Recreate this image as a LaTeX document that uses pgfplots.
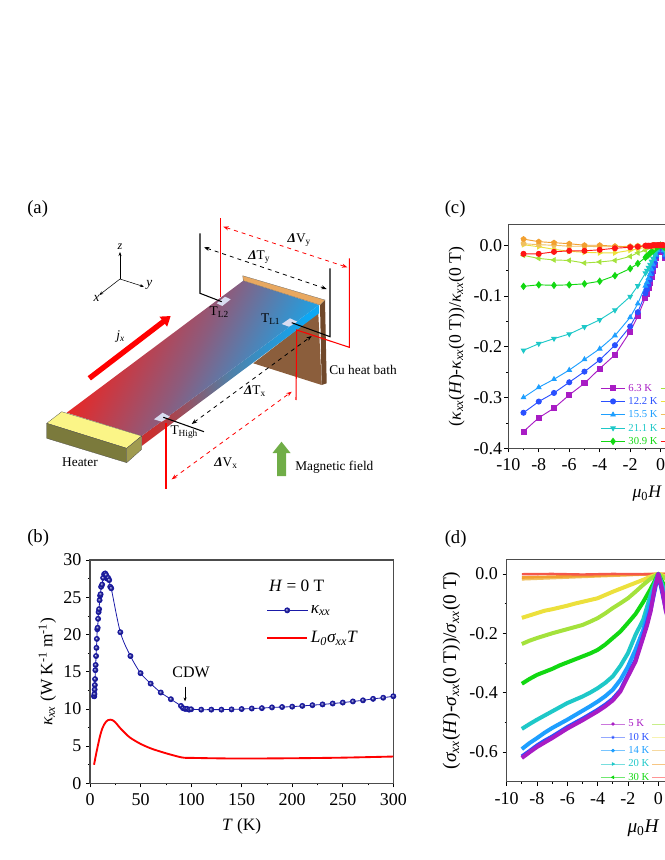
\documentclass[border=0pt]{standalone}
\usepackage{fontspec}
\setmainfont{Liberation Serif}
\usepackage{pgfplots}
\pgfplotsset{compat=1.18}
\usetikzlibrary{arrows.meta}

% series colours, low T to high T
\definecolor{cA}{HTML}{A81CC4}
\definecolor{cB}{HTML}{2A50FF}
\definecolor{cC}{HTML}{1E9FFF}
\definecolor{cD}{HTML}{1EC8C8}
\definecolor{cE}{HTML}{12D812}
\definecolor{cF}{HTML}{A4E23C}
\definecolor{cG}{HTML}{ECE03C}
\definecolor{cH}{HTML}{F0C060}
\definecolor{cI}{HTML}{F2A030}
\definecolor{cJ}{HTML}{FF1414}
\definecolor{cK}{HTML}{F5584B}
\definecolor{navyk}{HTML}{1A1AA8}
% schematic
\definecolor{hot}{HTML}{FF1A10}
\definecolor{mid}{HTML}{8C5C7D}
\definecolor{cold}{HTML}{00B4FF}
\definecolor{sidehot}{HTML}{C83030}
\definecolor{sidemid}{HTML}{5080A8}
\definecolor{sidecold}{HTML}{0CA8F5}
\definecolor{tan}{HTML}{E8A860}
\definecolor{cu}{HTML}{8B5E3C}
\definecolor{cudark}{HTML}{70482A}
\definecolor{heattop}{HTML}{FBF587}
\definecolor{heatfront}{HTML}{7B7A3C}
\definecolor{heatside}{HTML}{A09B50}
\definecolor{pad}{HTML}{D8DCF0}
\definecolor{fieldgreen}{HTML}{70AD47}

\pgfplotsset{
  panel/.style={
    scale only axis,
    tick align=outside,
    axis line style={black!70, line width=0.8pt},
    tick style={black, line width=0.5pt},
    major tick length=3pt,
    minor tick length=1.6pt,
    xtick pos=bottom, ytick pos=left,
    tick label style={font=\fontsize{13.5}{14}\selectfont},
    /pgf/number format/assume math mode=true,
  },
  fieldaxis/.style={
    xmin=-10, xmax=10,
    xtick={-10,-8,...,0},
    minor x tick num=1,
    minor y tick num=1,
    xticklabel style={yshift=-1.5pt},
    yticklabel style={/pgf/number format/fixed, /pgf/number format/precision=1, /pgf/number format/fixed zerofill},
    legend image code/.code={\draw[mark repeat=2,mark phase=2,##1] plot coordinates {(0pt,0pt)(9.2pt,0pt)(18.4pt,0pt)};},
    legend columns=5, transpose legend,
    legend cell align=left,
    legend style={draw=none, fill=none, font=\fontsize{8}{8}\selectfont, anchor=north west,
      nodes={inner sep=0pt, text height=6pt, text depth=1.5pt},
      row sep=2.5pt, column sep=2pt},
  },
}

\begin{document}
\begin{tikzpicture}
\path[use as bounding box] (0,0) rectangle (498pt,645pt);

% panel a, drawn in image pixels
\begin{axis}[at={(0pt,0pt)}, anchor=south west, scale only axis, width=498pt, height=645pt,
  xmin=0, xmax=664, ymin=0, ymax=860, y dir=reverse, hide axis, clip=false,
  every axis plot/.append style={forget plot}]
  \addplot[fill=cu, draw=none] coordinates {(253.3,363.3) (318.3,313) (321.7,385)} --cycle;
  \addplot[fill=cudark, draw=none] coordinates {(320,305) (325,300) (326.7,383.3) (321.7,385)} --cycle;
  \shade[bottom color=sidehot, top color=sidecold, middle color=sidemid, shading angle=-80]
    (141.7,436) -- (319,305) -- (319,313.3) -- (141.7,446) -- cycle;
  \shade[bottom color=hot, top color=cold, middle color=mid, shading angle=-118]
    (66.7,412.7) -- (243.3,280.7) -- (319,305) -- (141.7,436) -- cycle;
  \addplot[fill=tan, draw=black!60, line width=0.2pt]
    coordinates {(242.7,275.7) (243.3,280.7) (320,305) (325,300)} --cycle;
  % heater
  \addplot[fill=heattop, draw=black!70, line width=0.2pt]
    coordinates {(46.7,423.3) (61.7,411.7) (141.7,436) (126.7,448.3)} --cycle;
  \addplot[fill=heatfront, draw=black!70, line width=0.2pt]
    coordinates {(46.7,423.3) (126.7,448.3) (126.7,462.7) (46.7,438.3)} --cycle;
  \addplot[fill=heatside, draw=black!70, line width=0.2pt]
    coordinates {(126.7,448.3) (141.7,436) (141.7,449.3) (126.7,462.7)} --cycle;
  % contacts
  \addplot[fill=pad, draw=none] coordinates {(216.7,303.3) (225,296.7) (230.7,299.3) (222.3,306)} --cycle;
  \addplot[fill=pad, draw=none] coordinates {(281.7,324) (290,318.3) (297.3,321.7) (289,326.7)} --cycle;
  \addplot[fill=pad, draw=none] coordinates {(154,419.3) (162.7,412.7) (170,416.7) (161.7,421.7)} --cycle;
  % wires
  \addplot[black, line width=0.8pt] coordinates {(200,233.3) (200,293.3) (221.7,301.7)};
  \addplot[black, line width=0.8pt] coordinates {(330,268.3) (330,336.7) (291.7,322.7)};
  \addplot[black, line width=0.8pt] coordinates {(163.3,417.3) (204,431.7)};
  \addplot[red, line width=0.8pt] coordinates {(220.7,218.3) (220.7,296.7)};
  \addplot[red, line width=0.8pt] coordinates {(349.3,258.3) (349.3,347.3) (296.7,330) (296,400)};
  \addplot[red, line width=0.8pt] coordinates {(166,423.3) (166,489.3)};
  % dashed spans
  \addplot[red, line width=0.6pt, dashed, {Stealth[length=4pt]}-{Stealth[length=4pt]}] coordinates {(223.3,226.7) (347.3,267.3)};
  \addplot[black, line width=0.6pt, dashed, {Stealth[length=4pt]}-{Stealth[length=4pt]}] coordinates {(204,247.3) (326.7,289)};
  \addplot[black, line width=0.6pt, dashed, {Stealth[length=4pt]}-{Stealth[length=4pt]}] coordinates {(191.7,424) (311.7,336)};
  \addplot[red, line width=0.6pt, dashed, {Stealth[length=4pt]}-{Stealth[length=4pt]}] coordinates {(171.7,479.3) (291.7,391.7)};
  % current and field arrows
  \addplot[red, line width=4pt, -{Triangle[length=7pt,width=9pt]}] coordinates {(89.3,378.3) (170.7,316)};
  \addplot[fill=fieldgreen, draw=none]
    coordinates {(277,476) (286,476) (286,453) (290.5,453) (281.5,441.7) (272.5,453) (277,453)} --cycle;
  % xyz triad
  \addplot[black, line width=0.4pt, -{Stealth[length=3pt]}] coordinates {(120,279) (120,252)};
  \addplot[black, line width=0.4pt, -{Stealth[length=3pt]}] coordinates {(120,279) (144,286.7)};
  \addplot[black, line width=0.4pt, -{Stealth[length=3pt]}] coordinates {(120,279) (99.3,295)};
  \node[font=\fontsize{9}{9}\selectfont\itshape] at (120,247) {z};
  \node[font=\fontsize{10}{10}\selectfont\itshape] at (149.3,285) {y};
  \node[font=\fontsize{10}{10}\selectfont\itshape] at (96.7,298.5) {x};
  % labels
  \begin{scope}[every node/.style={font=\fontsize{10}{11}\selectfont, inner sep=0pt}]
    \node at (299.3,240) {\textbf{\textit{Δ}}V\textsubscript{y}};
    \node at (259.3,256.7) {\textbf{\textit{Δ}}T\textsubscript{y}};
    \node at (255,390.7) {\textbf{\textit{Δ}}T\textsubscript{x}};
    \node at (226,462.7) {\textbf{\textit{Δ}}V\textsubscript{x}};
    \node at (219.3,311.7) {T\textsubscript{L2}};
    \node at (270.7,319.3) {T\textsubscript{L1}};
    \node at (184.3,431.7) {T\textsubscript{High}};
    \node[anchor=west] at (329,370) {Cu heat bath};
    \node at (80,461.7) {Heater};
    \node[anchor=west] at (295,467.3) {Magnetic field};
    \node at (120.7,336.7) {\textit{j\textsubscript{x}}};
  \end{scope}
  \begin{scope}[every node/.style={font=\fontsize{14}{15}\selectfont, inner sep=0pt, anchor=west}]
    \node at (27,209) {(a)};
    \node at (27,538) {(b)};
    \node at (444.5,209) {(c)};
    \node at (444.5,539) {(d)};
  \end{scope}
\end{axis}

% panel b
\begin{axis}[panel, at={(67.5pt,57.5pt)}, anchor=south west, width=227.5pt, height=167.5pt,
  xmin=0, xmax=300, ymin=0, ymax=30,
  xtick={0,50,...,300}, ytick={0,5,...,30},
  minor x tick num=1, minor y tick num=1,
  xticklabel style={yshift=-1pt},
  xlabel={\textit{T} (K)},
  ylabel={\textit{κ\textsubscript{xx}} (W K\textsuperscript{-1} m\textsuperscript{-1})},
  label style={font=\fontsize{13}{15}\selectfont},
  xlabel style={yshift=-3pt}, ylabel style={yshift=-1.5pt},
  legend cell align=left,
  legend image code/.code={\draw[mark repeat=2,mark phase=2,#1] plot coordinates {(0pt,0pt)(15pt,0pt)(30pt,0pt)};},
  legend style={draw=none, fill=none, at={(0.567,0.822)}, anchor=north west,
    font=\fontsize{13}{14}\selectfont, row sep=8pt},
]
  \addplot[navyk, line width=0.6pt, smooth, mark=ball, mark size=1.9pt, mark options={ball color=navyk}]
  coordinates {(4,11.7) (4.2,11.7) (4.4,12) (4.6,12.6) (4.8,13.2) (5,14) (5.3,15.2) (5.6,15.9) (6,17.1) (6.4,18.2) (6.8,19.4) (7.2,20.7) (7.6,20.9) (8,22.1) (8.5,23) (9,23.4) (9.5,24.6) (10,25.2) (10.5,25.4) (11,26.4) (12,26.7) (13,27.6) (14,28.1) (15,28.2) (16,28) (17,27.5) (18,27.6) (19,27.3) (20,26.4) (21,26.2) (30,20.3) (40,17.1) (50,14.8) (60,13.4) (70,12.2) (80,11.3) (90,10.4) (92,10.1) (94,10) (96,10) (98,9.9) (100,9.95) (110,9.9) (120,9.9) (130,9.9) (140,9.93) (150,9.98) (160,10.05) (170,10.1) (180,10.2) (190,10.25) (200,10.3) (210,10.4) (220,10.5) (230,10.6) (240,10.72) (250,10.85) (260,11) (270,11.15) (280,11.35) (290,11.5) (300,11.7)};
  \addlegendentry{\textit{κ\textsubscript{xx}}}
  \addplot[red, line width=1.4pt, smooth, forget plot]
  coordinates {(4,2.5) (6,3.9) (8,5.2) (10,6.4) (12,7.3) (14,7.9) (16,8.3) (18,8.5) (20,8.55) (22,8.5) (25,8.2) (30,7.4) (35,6.7) (40,6.1) (50,5.3) (60,4.7) (70,4.25) (80,3.85) (90,3.5) (95,3.42) (100,3.42) (120,3.37) (150,3.33) (200,3.37) (250,3.45) (300,3.6)};
  \addlegendimage{red, line width=1.4pt}
  \addlegendentry{\textit{L\textsubscript{0}σ\textsubscript{xx}T}}
  \node[font=\fontsize{13}{14}\selectfont] at (204.4,26.5) {\textit{H} = 0 T};
  \node[font=\fontsize{12}{13}\selectfont] at (100,14.9) {CDW};
  \draw[black, line width=0.4pt, -{Stealth[length=3pt]}] (94,13) -- (94,11);
\end{axis}

% panel c
\begin{axis}[panel, fieldaxis, at={(381.2pt,308.8pt)}, anchor=south west, width=228.6pt, height=167.5pt,
  ymin=-0.4, ymax=0.04, ytick={-0.4,-0.3,...,0},
  xlabel={\textit{μ}\textsubscript{0}\textit{H} (T)},
  ylabel={(\textit{κ\textsubscript{xx}}(\textit{H})-\textit{κ\textsubscript{xx}}(0 T))/\textit{κ\textsubscript{xx}}(0 T)},
  label style={font=\fontsize{13.2}{15}\selectfont},
  xlabel style={yshift=-4pt},
  yticklabel style={xshift=2pt},
  every axis plot/.append style={line width=0.7pt, mark size=1.9pt, mark options={solid}},
  legend style={at={(0.288,0.305)}},
]
  \addplot[cA, mark=square*] coordinates {(-9,-.367) (-8,-.340) (-7,-.321) (-6,-.295) (-5,-.272) (-4,-.243) (-3,-.216) (-2,-.170) (-1.5,-.140) (-1,-.103) (-.9,-.095) (-.8,-.085) (-.7,-.075) (-.6,-.062) (-.5,-.05) (-.4,-.038) (-.3,-.025) (-.2,-.014) (-.1,-.005) (0,0) (.1,-.005) (.2,-.014) (.3,-.025) (.5,-.05) (1,-.103)};
  \addlegendentry{\textcolor{cA}{6.3 K}}
  \addplot[cB, mark=*] coordinates {(-9,-.330) (-8,-.308) (-7,-.291) (-6,-.270) (-5,-.249) (-4,-.226) (-3,-.197) (-2,-.160) (-1.5,-.132) (-1,-.095) (-.9,-.087) (-.8,-.078) (-.7,-.068) (-.6,-.056) (-.5,-.045) (-.4,-.034) (-.3,-.022) (-.2,-.012) (-.1,-.004) (0,0) (.1,-.004) (.2,-.012) (.3,-.022) (.5,-.045) (1,-.095)};
  \addlegendentry{\textcolor{cB}{12.2 K}}
  \addplot[cC, mark=triangle*] coordinates {(-9,-.300) (-8,-.280) (-7,-.264) (-6,-.246) (-5,-.225) (-4,-.204) (-3,-.178) (-2,-.142) (-1.5,-.115) (-1,-.080) (-.9,-.073) (-.8,-.065) (-.7,-.057) (-.6,-.048) (-.5,-.038) (-.4,-.028) (-.3,-.019) (-.2,-.010) (-.1,-.003) (0,0) (.1,-.003) (.2,-.010) (.3,-.019) (.5,-.038) (1,-.080)};
  \addlegendentry{\textcolor{cC}{15.5 K}}
  \addplot[cD, mark=triangle*, mark options={solid, rotate=180}] coordinates {(-9,-.207) (-8,-.194) (-7,-.184) (-6,-.175) (-5,-.161) (-4,-.147) (-3,-.128) (-2,-.101) (-1.5,-.080) (-1,-.055) (-.9,-.050) (-.8,-.044) (-.7,-.038) (-.6,-.032) (-.5,-.026) (-.4,-.019) (-.3,-.013) (-.2,-.007) (-.1,-.002) (0,0) (.1,-.002) (.2,-.007) (.3,-.013) (.5,-.026) (1,-.055)};
  \addlegendentry{\textcolor{cD}{21.1 K}}
  \addplot[cE, mark=diamond*, mark size=2.3pt] coordinates {(-9,-.081) (-8,-.078) (-7,-.079) (-6,-.078) (-5,-.076) (-4,-.071) (-3,-.060) (-2,-.046) (-1.5,-.036) (-1,-.024) (-.9,-.021) (-.8,-.019) (-.7,-.016) (-.6,-.013) (-.5,-.011) (-.4,-.008) (-.3,-.005) (-.2,-.003) (-.1,-.001) (0,0) (.1,-.001) (.2,-.003) (.3,-.005) (.5,-.011) (1,-.024)};
  \addlegendentry{\textcolor{cE}{30.9 K}}
  \addplot[cF, mark=triangle*, mark options={solid, rotate=90}] coordinates {(-9,-.020) (-8,-.026) (-7,-.029) (-6,-.030) (-5,-.035) (-4,-.033) (-3,-.030) (-2,-.022) (-1.5,-.015) (-1,-.010) (-.5,-.004) (0,0) (.5,-.004) (1,-.010)};
  \addlegendentry{}
  \addplot[cG, mark=triangle*, mark options={solid, rotate=270}] coordinates {(-9,.001) (-8,-.003) (-7,-.008) (-6,-.012) (-5,-.014) (-4,-.015) (-3,-.015) (-2,-.010) (-1.5,-.007) (-1,-.004) (-.5,-.002) (0,0) (.5,-.002) (1,-.004)};
  \addlegendentry{}
  \addplot[cH, mark=pentagon*] coordinates {(-9,.003) (-8,.001) (-7,0) (-6,-.002) (-5,-.002) (-4,-.003) (-3,-.003) (-2,-.002) (-1.5,-.001) (-1,-.001) (-.5,0) (0,0) (.5,0) (1,-.001)};
  \addlegendentry{}
  \addplot[cI, mark=pentagon*] coordinates {(-9,.012) (-8,.007) (-7,.005) (-6,.003) (-5,0) (-4,0) (-3,-.002) (-2,-.003) (-1.5,-.002) (-1,-.001) (-.5,0) (0,0) (.5,0) (1,-.001)};
  \addlegendentry{}
  \addplot[cJ, mark=*] coordinates {(-9,-.017) (-8,-.017) (-7,-.013) (-6,-.011) (-5,-.011) (-4,-.009) (-3,-.006) (-2,-.004) (-1.5,-.003) (-1,-.001) (-.9,-.001) (-.8,-.001) (-.7,-.001) (-.6,-.001) (-.5,0) (-.4,0) (-.3,0) (-.2,0) (-.1,0) (0,0) (.1,0) (.2,0) (.5,0) (1,-.001)};
  \addlegendentry{}
\end{axis}

% panel d, thick traces, legend keys typed apart
\begin{axis}[panel, fieldaxis, at={(380pt,58.7pt)}, anchor=south west, width=227.4pt, height=167pt,
  ymin=-0.7, ymax=0.05, ytick={-0.6,-0.4,...,0},
  xlabel={\textit{μ}\textsubscript{0}\textit{H} (T)},
  ylabel={(\textit{σ\textsubscript{xx}}(\textit{H})-\textit{σ\textsubscript{xx}}(0 T))/\textit{σ\textsubscript{xx}}(0 T)},
  label style={font=\fontsize{14.5}{16}\selectfont},
  xlabel style={yshift=-4pt},
  every axis plot/.append style={line width=3pt, forget plot, line join=round},
  legend style={at={(0.295,0.295)}},
]
  \addlegendimage{cA!60, line width=0.5pt, mark=*, mark size=1pt, mark options={cA, solid}}
  \addlegendentry{\textcolor{cA}{5 K}}
  \addlegendimage{cB!50, line width=0.5pt, mark=star, mark size=1.2pt, mark options={cB, solid}}
  \addlegendentry{\textcolor{cB}{10 K}}
  \addlegendimage{cC!60, line width=0.5pt, mark=*, mark size=1.2pt, mark options={cC, solid}}
  \addlegendentry{\textcolor{cC}{14 K}}
  \addlegendimage{cD!60, line width=0.5pt, mark=triangle*, mark size=1.2pt, mark options={cD, solid, rotate=270}}
  \addlegendentry{\textcolor{cD}{20 K}}
  \addlegendimage{cE!60, line width=0.5pt, mark=triangle*, mark size=1.2pt, mark options={cE, solid, rotate=90}}
  \addlegendentry{\textcolor{cE}{30 K}}
  \addlegendimage{cF!60, line width=0.5pt}
  \addlegendentry{}
  \addlegendimage{cG!40, line width=0.5pt}
  \addlegendentry{}
  \addlegendimage{cH!60, line width=0.5pt}
  \addlegendentry{}
  \addlegendimage{cI!60, line width=0.5pt}
  \addlegendentry{}
  \addlegendimage{cJ!45, line width=0.5pt}
  \addlegendentry{}

  \addplot[cH, line width=2pt] coordinates {(-9,-.018) (-6,-.012) (-3,-.006) (0,0) (1,-.001)};
  \addplot[cI, line width=2pt] coordinates {(-9,-.012) (-6,-.008) (-3,-.004) (0,0) (1,-.001)};
  \addplot[cK, line width=1.8pt] coordinates {(-9,-.001) (-7,0) (-5,-.002) (-3,0) (-1,-.001) (0,0) (1,-.001)};
  \addplot[cG] coordinates {(-9,-.148) (-8.5,-.140) (-8,-.132) (-7.5,-.124) (-7,-.119) (-6.5,-.113) (-6,-.107) (-5.5,-.100) (-5,-.094) (-4.5,-.088) (-4,-.082) (-3.5,-.071) (-3,-.060) (-2.5,-.050) (-2,-.040) (-1.5,-.030) (-1,-.020) (-.5,-.009) (0,0) (.5,-.009) (1,-.020)};
  \addplot[cF] coordinates {(-9,-.236) (-8.5,-.225) (-8,-.216) (-7.5,-.208) (-7,-.200) (-6.5,-.193) (-6,-.186) (-5.5,-.179) (-5,-.172) (-4.5,-.161) (-4,-.149) (-3.5,-.133) (-3,-.115) (-2.5,-.099) (-2,-.082) (-1.5,-.060) (-1,-.037) (-.5,-.016) (0,0) (.5,-.016) (1,-.037)};
  \addplot[cE] coordinates {(-9,-.370) (-8.5,-.354) (-8,-.340) (-7.5,-.330) (-7,-.320) (-6.5,-.308) (-6,-.298) (-5.5,-.288) (-5,-.278) (-4.5,-.268) (-4,-.256) (-3.5,-.238) (-3,-.216) (-2.5,-.194) (-2,-.165) (-1.5,-.135) (-1,-.095) (-.5,-.050) (0,0) (.5,-.050) (1,-.095)};
  \addplot[cD] coordinates {(-9,-.522) (-8.5,-.506) (-8,-.491) (-7.5,-.477) (-7,-.463) (-6.5,-.449) (-6,-.435) (-5.5,-.424) (-5,-.413) (-4.5,-.400) (-4,-.385) (-3.5,-.367) (-3,-.345) (-2.5,-.310) (-2,-.267) (-1.5,-.205) (-1,-.155) (-.5,-.070) (0,0) (.5,-.070) (1,-.155)};
  \addplot[cC] coordinates {(-9,-.590) (-8.5,-.570) (-8,-.553) (-7.5,-.535) (-7,-.519) (-6.5,-.505) (-6,-.491) (-5.5,-.476) (-5,-.461) (-4.5,-.446) (-4,-.430) (-3.5,-.412) (-3,-.390) (-2.5,-.357) (-2,-.312) (-1.5,-.255) (-1,-.190) (-.5,-.095) (0,0) (.5,-.095) (1,-.190)};
  \addplot[cB] coordinates {(-9,-.615) (-8.5,-.597) (-8,-.578) (-7.5,-.562) (-7,-.548) (-6.5,-.532) (-6,-.516) (-5.5,-.502) (-5,-.488) (-4.5,-.473) (-4,-.458) (-3.5,-.441) (-3,-.421) (-2.5,-.392) (-2,-.340) (-1.5,-.290) (-1,-.210) (-.5,-.120) (0,0) (.5,-.120) (1,-.210)};
  \addplot[cA] coordinates {(-9,-.620) (-8.5,-.601) (-8,-.583) (-7.5,-.568) (-7,-.553) (-6.5,-.537) (-6,-.521) (-5.5,-.507) (-5,-.493) (-4.5,-.478) (-4,-.463) (-3.5,-.446) (-3,-.426) (-2.5,-.396) (-2,-.345) (-1.5,-.295) (-1,-.215) (-.75,-.175) (-.5,-.125) (-.25,-.050) (0,0) (.25,-.050) (.5,-.125) (1,-.215)};
\end{axis}
\end{tikzpicture}
\end{document}
